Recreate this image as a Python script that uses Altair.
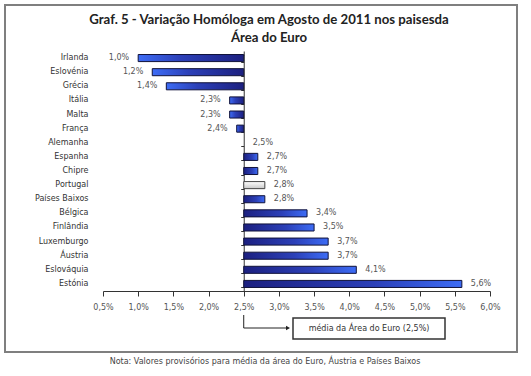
import altair as alt
import pandas as pd

countries = ["Irlanda", "Eslovénia", "Grécia", "Itália", "Malta", "França", "Alemanha",
             "Espanha", "Chipre", "Portugal", "Países Baixos", "Bélgica", "Finlândia",
             "Luxemburgo", "Áustria", "Eslováquia", "Estónia"]
values = [1.0, 1.2, 1.4, 2.3, 2.3, 2.4, 2.5, 2.7, 2.7, 2.8, 2.8, 3.4, 3.5, 3.7, 3.7, 4.1, 5.6]
euro_avg = 2.5
x_ticks = [0.5, 1.0, 1.5, 2.0, 2.5, 3.0, 3.5, 4.0, 4.5, 5.0, 5.5, 6.0]

title_lines = ["Graf. 5 - Variação Homóloga em Agosto de 2011 nos paisesda", "Área do Euro"]
note = "Nota: Valores provisórios para média da área do Euro, Áustria e Países Baixos"
avg_label = "média da Área do Euro (2,5%)"

rows = []
for c, v in zip(countries, values):
    if c == "Portugal":
        kind = "PT"
    elif v < euro_avg:
        kind = "L"
    elif v > euro_avg:
        kind = "R"
    else:
        kind = "Z"
    rows.append({"country": c, "v": v, "base": euro_avg, "kind": kind,
                 "label": f"{v:.1f}%".replace(".", ",")})
df = pd.DataFrame(rows)

W, H = 387, 240
FONT = "DejaVu Sans"
GREY = "#555555"

xscale = alt.Scale(domain=[0.5, 6.0], nice=False, zero=False)
yscale = alt.Scale(domain=countries, paddingInner=0.5, paddingOuter=0.25)

xaxis = alt.Axis(values=x_ticks, grid=False, domainColor="#333", tickColor="#333",
                 tickSize=5, labelPadding=7, labelFont=FONT, labelFontSize=8,
                 labelColor=GREY, title=None, labelOverlap=False, labelFlush=False,
                 labelExpr="replace(format(datum.value, '.1f'), '.', ',') + '%'")

stops = [{"offset": 0, "color": "#1c2080"}, {"offset": 0.6, "color": "#2c40b8"},
         {"offset": 1, "color": "#3d6cf5"}]
grad_right = {"gradient": "linear", "x1": 0, "x2": 1, "y1": 0, "y2": 0, "stops": stops}
grad_left = {"gradient": "linear", "x1": 1, "x2": 0, "y1": 0, "y2": 0, "stops": stops}
grad_pt = {"gradient": "linear", "x1": 0, "x2": 0, "y1": 0, "y2": 1,
           "stops": [{"offset": 0, "color": "#ffffff"}, {"offset": 1, "color": "#c8c8c8"}]}

base = alt.Chart(df)

def X():
    return alt.X("v:Q", scale=xscale, axis=xaxis)

def Y(axis=None):
    return alt.Y("country:N", scale=yscale, axis=axis)

ylab = base.mark_point(opacity=0).encode(
    x=X(),
    y=Y(alt.Axis(orient="left", domain=False, ticks=False, labelPadding=15,
                 labelFont=FONT, labelFontSize=8, labelColor="#333", title=None)),
)

yline = base.mark_point(opacity=0).encode(
    x=X(),
    y=Y(alt.Axis(orient="left", labels=False, domain=True, domainColor="#333",
                 ticks=True, tickColor="#333", tickSize=3, tickBand="extent",
                 offset=-(euro_avg - 0.5) / 5.5 * W, title=None)),
)

def bars(kind, fill, stroke):
    return base.transform_filter(alt.datum.kind == kind).mark_bar(
        fill=fill, stroke=stroke, strokeWidth=1).encode(
        x=X(), x2="base:Q", y=Y())

bl = bars("L", grad_left, "#10123a")
br = bars("R", grad_right, "#10123a")
bp = bars("PT", grad_pt, "#444444")

txt_l = base.transform_filter(alt.datum.kind == "L").mark_text(
    align="right", dx=-9, font=FONT, fontSize=8, color=GREY).encode(
    x=X(), y=Y(), text="label:N")
txt_r = base.transform_filter(alt.datum.kind != "L").mark_text(
    align="left", dx=9, font=FONT, fontSize=8, color=GREY).encode(
    x=X(), y=Y(), text="label:N")

deco = pd.DataFrame({"k": [0]})
d = alt.Chart(deco)
border = d.mark_rect(fill=None, stroke="#7f7f7f", strokeWidth=2).encode(
    x=alt.value(-98), x2=alt.value(414), y=alt.value(-46), y2=alt.value(301))
t1 = d.mark_text(font="Lato", fontWeight="bold", fontSize=13.2, color="#222").encode(
    x=alt.value(166), y=alt.value(-31), text=alt.value(title_lines[0]))
t2 = d.mark_text(font="Lato", fontWeight="bold", fontSize=13.2, color="#222").encode(
    x=alt.value(166), y=alt.value(-13), text=alt.value(title_lines[1]))
ax = (euro_avg - 0.5) / 5.5 * W
vline = d.mark_rule(color="#222", strokeWidth=1).encode(
    x=alt.value(ax), y=alt.value(264), y2=alt.value(277))
hline = d.mark_rule(color="#222", strokeWidth=1).encode(
    x=alt.value(ax), x2=alt.value(183), y=alt.value(277))
arrow = d.mark_point(shape="triangle-right", filled=True, color="#222", size=22, opacity=1).encode(
    x=alt.value(185), y=alt.value(277))
box = d.mark_rect(fill="white", stroke="#333", strokeWidth=1.5).encode(
    x=alt.value(190), x2=alt.value(342), y=alt.value(267), y2=alt.value(288))
boxtxt = d.mark_text(font=FONT, fontSize=8, color="#333").encode(
    x=alt.value(266), y=alt.value(278), text=alt.value(avg_label))
notetxt = d.mark_text(font=FONT, fontSize=8, color="#444").encode(
    x=alt.value(162), y=alt.value(311), text=alt.value(note))

chart = alt.layer(
    ylab, yline, bl, br, bp, txt_l, txt_r, border, t1, t2, vline, hline, arrow, box, boxtxt, notetxt
).resolve_axis(y="independent").properties(
    width=W, height=H,
    autosize=alt.AutoSizeParams(type="none"),
    padding={"left": 103, "top": 51, "right": 41, "bottom": 84},
    background="white",
).configure_view(stroke=None)

chart.save("out.html", embed_options={"renderer": "svg", "actions": False})
